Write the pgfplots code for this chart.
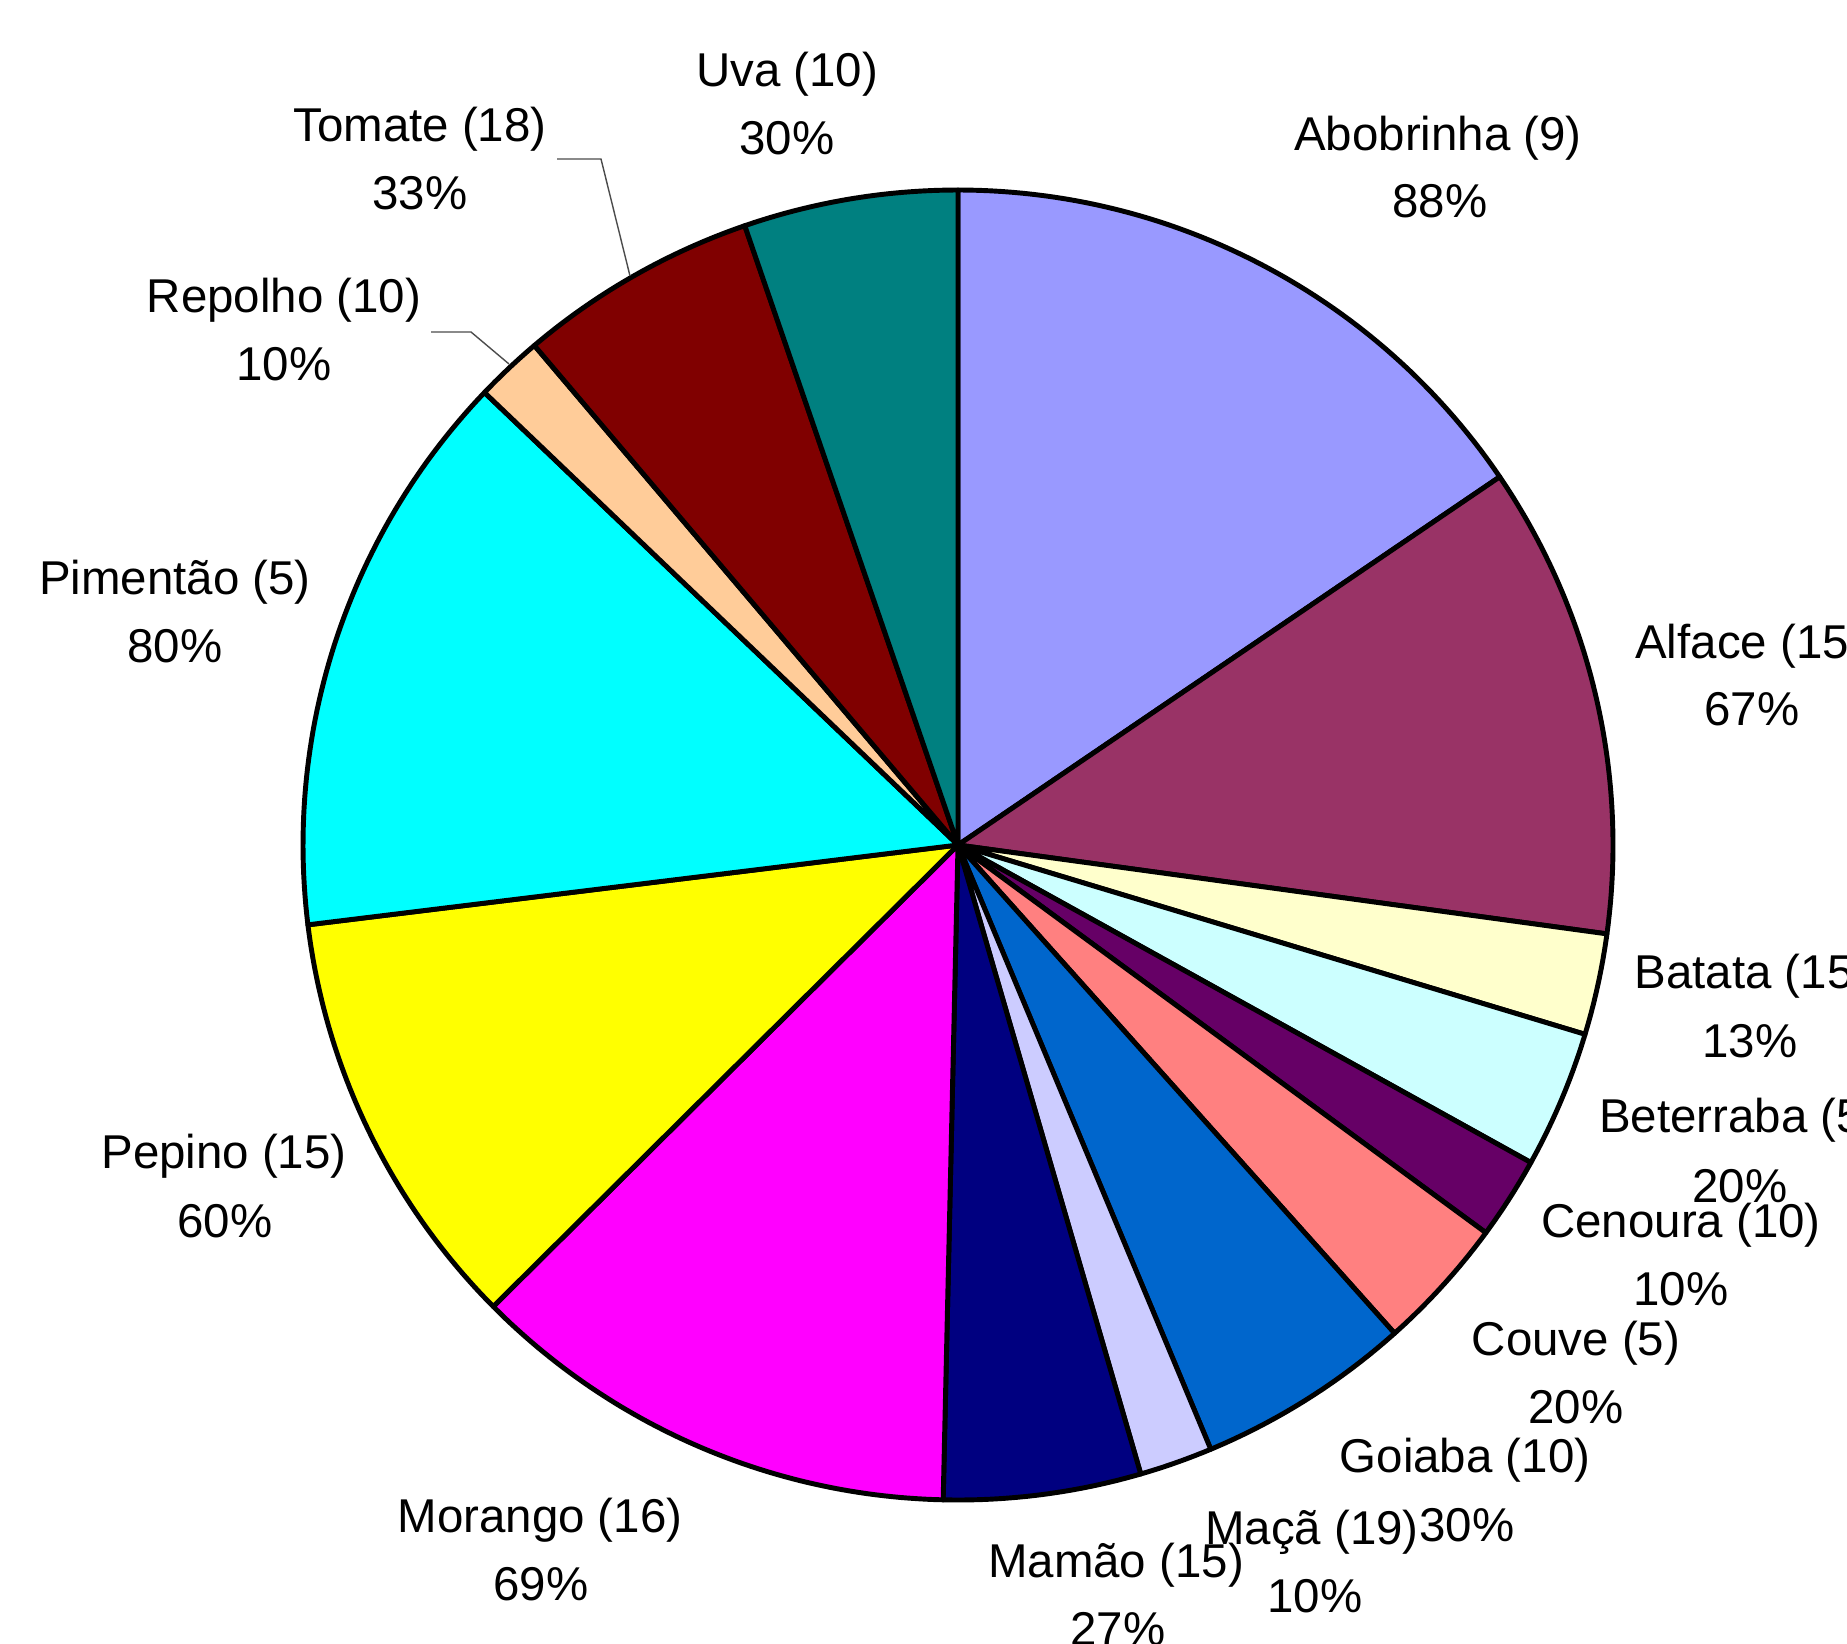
\documentclass[border=0pt]{standalone}
\usepackage{pgfplots}
\pgfplotsset{compat=1.18}
\usepackage{fontspec}
\setmainfont{Liberation Sans}
\definecolor{cAbo}{HTML}{9999FF}
\definecolor{cAlf}{HTML}{993366}
\definecolor{cBat}{HTML}{FFFFCC}
\definecolor{cBet}{HTML}{CCFFFF}
\definecolor{cCen}{HTML}{660066}
\definecolor{cCou}{HTML}{FF8080}
\definecolor{cGoi}{HTML}{0066CC}
\definecolor{cMac}{HTML}{CCCCFF}
\definecolor{cMam}{HTML}{000080}
\definecolor{cMor}{HTML}{FF00FF}
\definecolor{cPep}{HTML}{FFFF00}
\definecolor{cPim}{HTML}{00FFFF}
\definecolor{cRep}{HTML}{FFCC99}
\definecolor{cTom}{HTML}{800000}
\definecolor{cUva}{HTML}{008080}
\newcommand{\lbl}{\fontsize{13.5pt}{16pt}\selectfont}
\pgfplotsset{
  wedge/.style={draw=black, line width=1.4pt, line join=round, samples=60, fill=#1},
}
% slice(start,end) angles clockwise from 12 o'clock; centre (958,798), radius 655
\newcommand{\pieslice}[3]{%
  \addplot[wedge=#1, domain=#2:#3] ({958+655*sin(x)},{798+655*cos(x)}) -- (axis cs:958,798) -- cycle;}
\begin{document}
\begin{tikzpicture}
\begin{axis}[
  x=0.1mm, y=0.1mm,
  xmin=0, xmax=1847, ymin=0, ymax=1643,
  hide axis, clip=true,
]
\pieslice{cAbo}{0}{55.8}
\pieslice{cAlf}{55.8}{97.8}
\pieslice{cBat}{97.8}{106.8}
\pieslice{cBet}{106.8}{119.0}
\pieslice{cCen}{119.0}{126.3}
\pieslice{cCou}{126.3}{138.2}
\pieslice{cGoi}{138.2}{157.3}
\pieslice{cMac}{157.3}{163.8}
\pieslice{cMam}{163.8}{181.3}
\pieslice{cMor}{181.3}{225.2}
\pieslice{cPep}{225.2}{263.0}
\pieslice{cPim}{263.0}{313.7}
\pieslice{cRep}{313.7}{319.7}
\pieslice{cTom}{319.7}{341.0}
\pieslice{cUva}{341.0}{360}
% leader lines
\addplot[black!70, line width=0.4pt] coordinates {(557,1484) (601,1484) (630,1367)};
\addplot[black!70, line width=0.4pt] coordinates {(431,1311) (471,1311) (509,1279)};
% labels
\tikzset{lb/.style={anchor=base, inner sep=0pt, font=\lbl}}
\node[lb] at (axis cs:787,1556) {Uva (10)};
\node[lb] at (axis cs:787,1488) {30\%};
\node[lb] at (axis cs:420,1501) {Tomate (18)};
\node[lb] at (axis cs:420,1433) {33\%};
\node[lb] at (axis cs:1438,1492) {Abobrinha (9)};
\node[lb] at (axis cs:1440,1425) {88\%};
\node[lb] at (axis cs:284,1330) {Repolho (10)};
\node[lb] at (axis cs:284,1262) {10\%};
\node[lb] at (axis cs:175,1049) {Pimentão (5)};
\node[lb] at (axis cs:175,981) {80\%};
\node[lb] at (axis cs:224,475) {Pepino (15)};
\node[lb] at (axis cs:225,406) {60\%};
\node[lb] at (axis cs:540,111) {Morango (16)};
\node[lb] at (axis cs:541,43) {69\%};
\node[lb] at (axis cs:1116,66) {Mamão (15)};
\node[lb] at (axis cs:1118,-2) {27\%};
\node[lb] at (axis cs:1312,99) {Maçã (19)};
\node[lb] at (axis cs:1315,31) {10\%};
\node[lb] at (axis cs:1465,171) {Goiaba (10)};
\node[lb] at (axis cs:1467,102) {30\%};
\node[lb] at (axis cs:1576,288) {Couve (5)};
\node[lb] at (axis cs:1576,220) {20\%};
\node[lb] at (axis cs:1681,406) {Cenoura (10)};
\node[lb] at (axis cs:1681,338) {10\%};
\node[lb] at (axis cs:1739,511) {Beterraba (5)};
\node[lb] at (axis cs:1740,441) {20\%};
\node[lb] at (axis cs:1752,655) {Batata (15)};
\node[lb] at (axis cs:1750,586) {13\%};
\node[lb] at (axis cs:1750,985) {Alface (15)};
\node[lb] at (axis cs:1752,918) {67\%};
\end{axis}
\pgfresetboundingbox
\path[use as bounding box] (current axis.south west) rectangle (current axis.north east);
\end{tikzpicture}
\end{document}
